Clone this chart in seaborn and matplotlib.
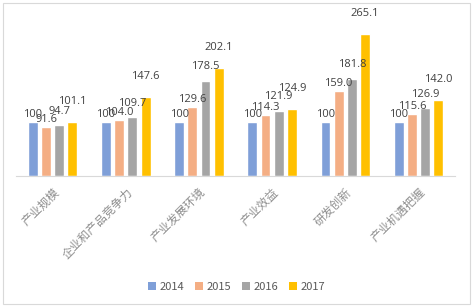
import matplotlib
matplotlib.use("Agg")
import matplotlib.pyplot as plt
import seaborn as sns
import pandas as pd
from matplotlib.patches import Patch, Rectangle

categories = ["产业规模", "企业和产品竞争力", "产业发展环境", "产业效益", "研发创新", "产业机遇把握"]
years = ["2014", "2015", "2016", "2017"]
v2014 = [100, 100, 100, 100, 100, 100]
v2015 = [91.6, 104.0, 129.6, 114.3, 159.0, 115.6]
v2016 = [94.7, 109.7, 178.5, 121.9, 181.8, 126.9]
v2017 = [101.1, 147.6, 202.1, 124.9, 265.1, 142.0]
labels2014 = ["100"] * 6
colors = ["#7F9FD8", "#F4AE84", "#A5A5A5", "#FFC000"]

series = [v2014, v2015, v2016, v2017]
rows = []
for y, vals in zip(years, series):
    for c, v in zip(categories, vals):
        rows.append({"cat": c, "year": y, "val": v})
df = pd.DataFrame(rows)

sns.set_style("white")
plt.rcParams["font.family"] = ["Noto Sans CJK SC", "DejaVu Sans"]

fig = plt.figure(figsize=(4.73, 3.08), dpi=100)
ax = fig.add_axes([0.034, 0.429, 0.928, 0.52])
sns.barplot(data=df, x="cat", y="val", hue="year", palette=colors,
            width=0.72, gap=0.25, ax=ax, legend=False, saturation=1)
ax.set_ylim(0, 300)
ax.set_xlim(-0.5, len(categories) - 0.5)

pads = [1.5, 1.5, 6, 11]
for i, cont in enumerate(ax.containers):
    vals = series[i]
    if i == 0:
        labs = labels2014
    else:
        labs = [f"{v:.1f}" for v in vals]
    ax.bar_label(cont, labels=labs, padding=pads[i], fontsize=8,
                 color="#404040", family=["Open Sans", "DejaVu Sans"])

ax.set_xlabel("")
ax.set_ylabel("")
ax.set_yticks([])
ax.tick_params(axis="x", length=0, pad=7)
ax.set_xticks(range(len(categories)))
ax.set_xticklabels(categories, rotation=45, ha="right", rotation_mode="anchor",
                   fontsize=8.5, color="#8f8f8f")
for s in ["top", "left", "right"]:
    ax.spines[s].set_visible(False)
ax.spines["bottom"].set_color("#d9d9d9")
ax.spines["bottom"].set_linewidth(0.8)

handles = [Patch(facecolor=c, edgecolor="none", label=y) for c, y in zip(colors, years)]
fig.legend(handles=handles, loc="center", bbox_to_anchor=(0.5, 0.068), ncol=4,
           frameon=False, fontsize=8, handlelength=0.7, handleheight=0.7,
           handletextpad=0.3, columnspacing=1.0, labelcolor="#595959")

fig.patches.append(Rectangle((0.006, 0.012), 0.988, 0.978, transform=fig.transFigure,
                             fill=False, edgecolor="#d9d9d9", linewidth=0.8))

fig.savefig("out.png", dpi=100, facecolor="white")
